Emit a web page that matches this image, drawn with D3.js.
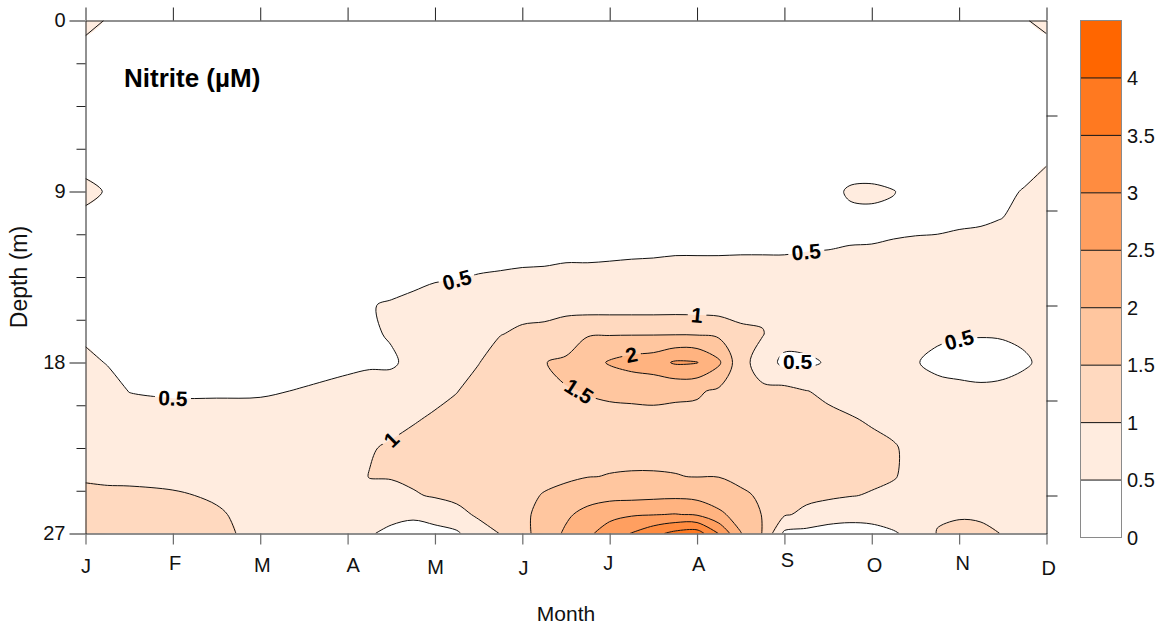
<!DOCTYPE html>
<html>
<head>
<meta charset="utf-8">
<title>Nitrite depth–time section</title>
<script src="https://cdn.jsdelivr.net/npm/d3@7"></script>
<style>
  html, body { margin: 0; padding: 0; background: #fff; }
  svg text { font-family: "Liberation Sans", Arial, Helvetica, sans-serif; }
</style>
</head>
<body>
<svg id="chart" width="1165" height="629"></svg>
<script>
// ---- data -------------------------------------------------------------
const monthLabels = ["J", "F", "M", "A", "M", "J", "J", "A", "S", "O", "N", "D"];
const depthLabels = [0, 9, 18, 27];
const legendLevels = [0, 0.5, 1, 1.5, 2, 2.5, 3, 3.5, 4, 4.5];

// gridded section: column positions (month index) and row depths (m)
const gridMonths = [0, 0.25, 0.5, 1, 1.5, 2, 2.5, 3, 3.25, 3.5, 3.75, 4, 4.25, 4.5, 4.75,
  5, 5.25, 5.5, 5.75, 6, 6.25, 6.5, 6.75, 7, 7.25, 7.5, 7.75, 8, 8.25, 8.5, 8.75,
  9, 9.25, 9.5, 9.75, 10, 10.25, 10.5, 10.75, 11];
const gridDepths = [0, 2, 4, 6, 7.5, 9, 10.5, 12, 13.5, 15, 16.5, 18, 19.5, 21, 22.5, 24, 25, 26, 27];

// nitrite (µM): one profile per grid column, surface to bottom
const nitriteProfiles = [
  [0.6, 0.35, 0.25, 0.25, 0.38, 0.6, 0.4, 0.3, 0.33, 0.38, 0.46, 0.55, 0.62, 0.7, 0.8, 0.95, 1.1, 1.2, 1.25],
  [0.48, 0.3, 0.25, 0.25, 0.32, 0.47, 0.33, 0.3, 0.32, 0.36, 0.42, 0.49, 0.58, 0.68, 0.78, 0.93, 1.08, 1.18, 1.22],
  [0.3, 0.26, 0.22, 0.22, 0.28, 0.35, 0.3, 0.28, 0.3, 0.33, 0.38, 0.44, 0.495, 0.6, 0.75, 0.92, 1.08, 1.18, 1.22],
  [0.26, 0.23, 0.2, 0.2, 0.25, 0.3, 0.28, 0.28, 0.3, 0.33, 0.38, 0.42, 0.48, 0.56, 0.7, 0.9, 1.04, 1.12, 1.15],
  [0.25, 0.22, 0.2, 0.2, 0.25, 0.3, 0.28, 0.28, 0.3, 0.33, 0.38, 0.42, 0.48, 0.56, 0.68, 0.85, 0.96, 1.04, 1.08],
  [0.25, 0.22, 0.2, 0.2, 0.25, 0.3, 0.28, 0.28, 0.3, 0.33, 0.38, 0.42, 0.48, 0.57, 0.68, 0.78, 0.84, 0.88, 0.9],
  [0.25, 0.22, 0.2, 0.2, 0.25, 0.3, 0.28, 0.29, 0.31, 0.35, 0.4, 0.44, 0.51, 0.6, 0.7, 0.75, 0.75, 0.72, 0.7],
  [0.25, 0.22, 0.2, 0.2, 0.25, 0.3, 0.3, 0.31, 0.33, 0.38, 0.42, 0.47, 0.54, 0.65, 0.85, 0.85, 0.78, 0.65, 0.58],
  [0.25, 0.22, 0.2, 0.2, 0.25, 0.3, 0.31, 0.33, 0.38, 0.49, 0.47, 0.48, 0.56, 0.75, 0.97, 1.01, 0.9, 0.6, 0.53],
  [0.25, 0.22, 0.2, 0.2, 0.25, 0.3, 0.32, 0.35, 0.42, 0.52, 0.52, 0.47, 0.6, 0.88, 1.05, 1.03, 0.85, 0.6, 0.42],
  [0.25, 0.22, 0.2, 0.2, 0.25, 0.3, 0.33, 0.37, 0.45, 0.55, 0.58, 0.56, 0.82, 0.97, 1.12, 1.1, 0.95, 0.55, 0.38],
  [0.25, 0.22, 0.2, 0.2, 0.25, 0.3, 0.33, 0.38, 0.48, 0.58, 0.65, 0.72, 0.9, 1.05, 1.15, 1.15, 1.05, 0.62, 0.4],
  [0.25, 0.22, 0.2, 0.2, 0.25, 0.3, 0.34, 0.4, 0.49, 0.6, 0.7, 0.8, 0.99, 1.12, 1.2, 1.2, 1.08, 0.9, 0.42],
  [0.25, 0.22, 0.2, 0.2, 0.25, 0.3, 0.35, 0.42, 0.51, 0.62, 0.8, 0.99, 1.12, 1.2, 1.25, 1.25, 1.15, 1.05, 0.85],
  [0.25, 0.22, 0.2, 0.2, 0.25, 0.3, 0.36, 0.43, 0.52, 0.85, 0.99, 1.15, 1.22, 1.28, 1.3, 1.3, 1.22, 1.12, 1.01],
  [0.25, 0.22, 0.2, 0.2, 0.25, 0.3, 0.36, 0.44, 0.53, 0.9, 1.05, 1.25, 1.28, 1.3, 1.35, 1.4, 1.42, 1.42, 1.4],
  [0.25, 0.22, 0.2, 0.2, 0.25, 0.3, 0.37, 0.45, 0.53, 0.92, 1.06, 1.48, 1.42, 1.35, 1.38, 1.42, 1.52, 1.62, 1.65],
  [0.25, 0.22, 0.2, 0.2, 0.25, 0.3, 0.37, 0.46, 0.54, 0.94, 1.1, 1.62, 1.47, 1.4, 1.42, 1.45, 1.6, 1.9, 2.1],
  [0.25, 0.22, 0.2, 0.2, 0.25, 0.3, 0.38, 0.46, 0.54, 0.77, 1.47, 1.78, 1.52, 1.4, 1.42, 1.49, 1.75, 2.2, 2.4],
  [0.25, 0.22, 0.2, 0.2, 0.25, 0.3, 0.38, 0.46, 0.55, 0.77, 1.47, 2.05, 1.56, 1.4, 1.42, 1.51, 1.85, 2.35, 2.75],
  [0.25, 0.22, 0.2, 0.2, 0.25, 0.3, 0.38, 0.47, 0.55, 0.77, 1.47, 2.2, 1.58, 1.4, 1.42, 1.52, 1.85, 2.45, 3.02],
  [0.25, 0.22, 0.2, 0.2, 0.25, 0.3, 0.38, 0.47, 0.56, 0.77, 1.47, 2.28, 1.62, 1.38, 1.42, 1.52, 1.88, 2.48, 3.35],
  [0.25, 0.22, 0.2, 0.2, 0.25, 0.3, 0.38, 0.48, 0.56, 0.78, 1.47, 2.56, 1.58, 1.38, 1.42, 1.51, 1.9, 2.52, 3.65],
  [0.25, 0.22, 0.2, 0.2, 0.25, 0.3, 0.38, 0.48, 0.56, 0.77, 1.46, 2.52, 1.56, 1.36, 1.42, 1.49, 1.85, 2.45, 3.75],
  [0.25, 0.22, 0.2, 0.2, 0.25, 0.3, 0.38, 0.48, 0.56, 0.76, 1.4, 2.08, 1.42, 1.32, 1.4, 1.49, 1.75, 2.1, 2.98],
  [0.25, 0.22, 0.2, 0.2, 0.25, 0.3, 0.38, 0.48, 0.57, 0.9, 1.06, 1.15, 1.2, 1.2, 1.3, 1.42, 1.56, 1.8, 2.02],
  [0.25, 0.22, 0.2, 0.2, 0.25, 0.3, 0.38, 0.48, 0.57, 0.92, 1.02, 0.8, 1.08, 1.15, 1.25, 1.35, 1.45, 1.48, 1.48],
  [0.25, 0.22, 0.2, 0.2, 0.25, 0.3, 0.38, 0.48, 0.57, 0.78, 0.75, 0.36, 1.15, 1.25, 1.28, 1.25, 1.2, 1.05, 0.4],
  [0.25, 0.22, 0.2, 0.2, 0.25, 0.3, 0.38, 0.49, 0.58, 0.72, 0.75, 0.4, 1.01, 1.15, 1.25, 1.2, 1.1, 0.9, 0.35],
  [0.25, 0.22, 0.2, 0.2, 0.25, 0.4, 0.42, 0.495, 0.6, 0.7, 0.75, 0.55, 0.93, 1.08, 1.2, 1.15, 1.08, 0.72, 0.3],
  [0.25, 0.22, 0.2, 0.22, 0.35, 0.54, 0.42, 0.51, 0.6, 0.7, 0.72, 0.7, 0.85, 1.03, 1.12, 1.1, 1.02, 0.65, 0.3],
  [0.25, 0.22, 0.2, 0.22, 0.34, 0.56, 0.42, 0.515, 0.6, 0.66, 0.68, 0.68, 0.82, 0.96, 1.1, 1.08, 0.97, 0.7, 0.3],
  [0.25, 0.22, 0.2, 0.22, 0.33, 0.51, 0.44, 0.53, 0.6, 0.62, 0.65, 0.66, 0.78, 0.9, 1.03, 1.02, 0.92, 0.75, 0.45],
  [0.25, 0.22, 0.2, 0.22, 0.3, 0.4, 0.45, 0.54, 0.6, 0.6, 0.58, 0.52, 0.65, 0.78, 0.9, 0.9, 0.85, 0.8, 0.65],
  [0.25, 0.22, 0.2, 0.22, 0.3, 0.4, 0.45, 0.55, 0.6, 0.6, 0.56, 0.42, 0.6, 0.72, 0.85, 0.88, 0.9, 0.95, 1.02],
  [0.25, 0.22, 0.2, 0.22, 0.32, 0.42, 0.47, 0.56, 0.6, 0.6, 0.53, 0.38, 0.58, 0.7, 0.82, 0.88, 0.92, 0.97, 1.08],
  [0.28, 0.24, 0.22, 0.24, 0.34, 0.43, 0.48, 0.57, 0.6, 0.6, 0.52, 0.36, 0.56, 0.7, 0.8, 0.86, 0.9, 0.96, 1.06],
  [0.33, 0.27, 0.25, 0.28, 0.37, 0.44, 0.505, 0.58, 0.6, 0.6, 0.53, 0.38, 0.58, 0.7, 0.78, 0.85, 0.9, 0.94, 0.99],
  [0.48, 0.3, 0.3, 0.35, 0.4, 0.52, 0.58, 0.6, 0.62, 0.62, 0.56, 0.46, 0.62, 0.72, 0.78, 0.83, 0.86, 0.86, 0.85],
  [0.58, 0.35, 0.3, 0.4, 0.49, 0.58, 0.62, 0.64, 0.65, 0.65, 0.62, 0.58, 0.66, 0.72, 0.78, 0.82, 0.85, 0.86, 0.85]
];

// contour labels: level and the (month, depth) spot they sit near
const contourLabels = [
  { level: 0.5, month: 1.17, depth: 19.9 },
  { level: 0.5, month: 4.17, depth: 13.7 },
  { level: 0.5, month: 8.34, depth: 12.1 },
  { level: 0.5, month: 8.15, depth: 17.97, inside: true },
  { level: 0.5, month: 9.95, depth: 16.8 },
  { level: 1, month: 3.46, depth: 22.1 },
  { level: 1, month: 6.92, depth: 15.4 },
  { level: 1.5, month: 5.71, depth: 19.5 },
  { level: 2, month: 6.15, depth: 17.8 }
];

// ---- layout -----------------------------------------------------------
const W = 1165, H = 629;
const X0 = 85.5, X1 = 1046.5, Y0 = 20.5, Y1 = 533.5;
const svg = d3.select("#chart");
const x = d3.scaleLinear().domain([0, monthLabels.length - 1]).range([X0, X1]);
const y = d3.scaleLinear().domain([0, 27]).range([Y0, Y1]);
const bandColor = t => d3.interpolateRgb("#ffffff", "#ff6600")(t);
const nBands = legendLevels.length - 1;

const defs = svg.append("defs");
defs.append("clipPath").attr("id", "plotClip")
  .append("rect").attr("x", X0).attr("y", Y0).attr("width", X1 - X0).attr("height", Y1 - Y0);
const gapMask = defs.append("mask").attr("id", "labelGaps")
  .attr("maskUnits", "userSpaceOnUse").attr("x", 0).attr("y", 0).attr("width", W).attr("height", H);
gapMask.append("rect").attr("x", 0).attr("y", 0).attr("width", W).attr("height", H).attr("fill", "#fff");

// ---- contour geometry -------------------------------------------------
const nx = gridMonths.length, ny = gridDepths.length;
const grid = new Array(nx * ny);
nitriteProfiles.forEach((col, i) => col.forEach((v, j) => { grid[j * nx + i] = v; }));
const contourLevels = legendLevels.slice(1, -1);
const shapes = d3.contours().size([nx, ny]).thresholds(contourLevels)(grid);

function lookup(arr, t) {
  const c = Math.max(0, Math.min(arr.length - 1, t));
  const i = Math.min(arr.length - 2, Math.floor(c));
  return arr[i] + (c - i) * (arr[i + 1] - arr[i]);
}
const toGrid = p => [Math.max(0, Math.min(nx - 1, p[0] - 0.5)), Math.max(0, Math.min(ny - 1, p[1] - 0.5))];
const toPx = g => [x(lookup(gridMonths, g[0])), y(lookup(gridDepths, g[1]))];
const same = (a, b) => Math.abs(a[0] - b[0]) < 1e-9 && Math.abs(a[1] - b[1]) < 1e-9;

function cleanRing(ring) {
  const pts = [];
  ring.forEach(p => {
    const g = toGrid(p);
    if (!pts.length || !same(pts[pts.length - 1], g)) pts.push(g);
  });
  if (pts.length > 1 && same(pts[0], pts[pts.length - 1])) pts.pop();
  return pts;
}
const eps = 1e-9;
const onBorder = (a, b) =>
  (a[0] <= eps && b[0] <= eps) || (a[0] >= nx - 1 - eps && b[0] >= nx - 1 - eps) ||
  (a[1] <= eps && b[1] <= eps) || (a[1] >= ny - 1 - eps && b[1] >= ny - 1 - eps);

const closedCurve = d3.line().curve(d3.curveCatmullRomClosed.alpha(0.5));
const openCurve = d3.line().curve(d3.curveCatmullRom.alpha(0.5));

function fillPath(shape) {
  return shape.coordinates.map(poly => poly.map(r => {
    const pts = cleanRing(r).map(toPx);
    return pts.length > 2 ? closedCurve(pts) : "";
  }).join("")).join("");
}

// isolines: ring pieces that do not run along the plot border
function isolines(shape) {
  const out = [];
  shape.coordinates.forEach(poly => poly.forEach(r => {
    const pts = cleanRing(r), n = pts.length;
    if (n < 3) return;
    const flags = pts.map((p, k) => onBorder(p, pts[(k + 1) % n]));
    const start = flags.indexOf(true);
    if (start < 0) { out.push({ closed: true, pts: pts.map(toPx) }); return; }
    let run = [];
    for (let s = 1; s <= n; s++) {
      const k = (start + s) % n;
      run.push(pts[k]);
      if (flags[k]) {
        if (run.length > 1) out.push({ closed: false, pts: run.map(toPx) });
        run = [];
      }
    }
  }));
  return out;
}

// ---- filled bands -----------------------------------------------------
const plotLayer = svg.append("g").attr("clip-path", "url(#plotClip)");
plotLayer.append("rect").attr("x", X0).attr("y", Y0).attr("width", X1 - X0).attr("height", Y1 - Y0).attr("fill", "#fff");
plotLayer.selectAll("path.band").data(shapes).join("path")
  .attr("class", "band")
  .attr("d", fillPath)
  .attr("fill", (d, i) => bandColor((i + 1) / (nBands - 1)))
  .attr("fill-rule", "evenodd");

const lineSets = shapes.map(s => ({ level: s.value, lines: isolines(s) }));

// ---- isolines, broken where labels sit ----------------------------------
const lineLayer = svg.append("g").attr("clip-path", "url(#plotClip)")
  .append("g").attr("mask", "url(#labelGaps)");
lineSets.forEach(s => s.lines.forEach(l => {
  lineLayer.append("path")
    .attr("d", l.closed ? closedCurve(l.pts) : openCurve(l.pts))
    .attr("fill", "none").attr("stroke", "#111").attr("stroke-width", 1);
}));

// ---- contour labels ---------------------------------------------------
const labelLayer = svg.append("g").attr("clip-path", "url(#plotClip)");
contourLabels.forEach(lab => {
  const tx = x(lab.month), ty = y(lab.depth);
  const set = lineSets.find(s => Math.abs(s.level - lab.level) < 1e-9);
  let best = null;
  set.lines.forEach(l => {
    l.pts.forEach((p, k) => {
      const d2 = (p[0] - tx) ** 2 + (p[1] - ty) ** 2;
      if (!best || d2 < best.d2) best = { d2, line: l, k };
    });
  });
  let px = tx, py = ty, ang = 0;
  if (best) {
    const pts = best.line.pts, n = pts.length;
    const at = i => best.line.closed ? pts[(i + n) % n] : pts[Math.max(0, Math.min(n - 1, i))];
    const a = at(best.k - 2), b = at(best.k + 2);
    ang = Math.atan2(b[1] - a[1], b[0] - a[0]) * 180 / Math.PI;
    if (ang > 90) ang -= 180;
    if (ang < -90) ang += 180;
    if (!lab.inside) { px = pts[best.k][0]; py = pts[best.k][1]; }
    else ang = 0;
  }
  const t = labelLayer.append("text")
    .attr("transform", `translate(${px},${py}) rotate(${ang})`)
    .attr("text-anchor", "middle").attr("dy", "0.36em")
    .attr("font-size", 21).attr("font-weight", "bold").attr("fill", "#000")
    .text(d3.format("~g")(lab.level));
  const w = t.node().getComputedTextLength() + 7;
  gapMask.append("rect")
    .attr("x", -w / 2).attr("y", -9).attr("width", w).attr("height", 18)
    .attr("transform", `translate(${px},${py}) rotate(${ang})`)
    .attr("fill", "#000");
});

// ---- axes ---------------------------------------------------------------
const monthIdx = monthLabels.map((_, i) => i);
const labelNudge = [[0, 1.7], [1.7, -2], [1.5, 0.7], [5.2, 0.7], [0, 2.7], [0.6, 3.3],
  [-1.9, -1.7], [1.1, -0.7], [2.5, -5], [2.2, 0.7], [3, -1.7], [1.7, 3.3]];

const axisColor = "#222";
const bottomAxis = svg.append("g").attr("transform", `translate(0,${Y1})`)
  .call(d3.axisBottom(x).tickValues(monthIdx).tickFormat(i => monthLabels[i])
    .tickSize(11).tickSizeOuter(0).tickPadding(13));
bottomAxis.select(".domain").attr("stroke", "#6a6a6a").attr("stroke-width", 1.5);
bottomAxis.selectAll(".tick line").attr("stroke", "#6a6a6a").attr("stroke-width", 1.2);
bottomAxis.selectAll(".tick text")
  .attr("font-size", 20).attr("fill", "#111")
  .attr("transform", (d, i) => `translate(${labelNudge[i][0]},${labelNudge[i][1]})`);
bottomAxis.attr("font-family", null);

const topAxis = svg.append("g").attr("transform", `translate(0,${Y0})`)
  .call(d3.axisTop(x).tickValues(monthIdx).tickFormat("").tickSize(13).tickSizeOuter(0));
topAxis.selectAll("path, line").attr("stroke", axisColor);

const leftAxis = svg.append("g").attr("transform", `translate(${X0},0)`)
  .call(d3.axisLeft(y).tickValues(depthLabels).tickSize(16).tickSizeOuter(0).tickPadding(4));
leftAxis.selectAll("path, line").attr("stroke", axisColor);
leftAxis.selectAll(".tick text").attr("font-size", 20).attr("fill", "#111");
leftAxis.attr("font-family", null);

const minorDepth = d3.range(0, 27.001, 2.25).filter(v => !depthLabels.includes(v));
svg.append("g").attr("transform", `translate(${X0},0)`)
  .call(d3.axisLeft(y).tickValues(minorDepth).tickFormat("").tickSize(9).tickSizeOuter(0))
  .call(g => g.select(".domain").remove())
  .selectAll("line").attr("stroke", axisColor);

const rightAxis = svg.append("g").attr("transform", `translate(${X1},0)`)
  .call(d3.axisRight(y).tickValues([5, 10, 15, 20, 25]).tickFormat("").tickSize(11).tickSizeOuter(0));
rightAxis.selectAll("path, line").attr("stroke", axisColor);

// ---- titles -------------------------------------------------------------
svg.append("text").attr("x", 124).attr("y", 87)
  .attr("font-size", 26).attr("font-weight", "bold").attr("fill", "#000")
  .text("Nitrite (µM)");
svg.append("text").attr("x", (X0 + X1) / 2).attr("y", 621)
  .attr("text-anchor", "middle").attr("font-size", 21).attr("fill", "#111")
  .text("Month");
svg.append("text").attr("transform", `translate(27,${(Y0 + Y1) / 2}) rotate(-90)`)
  .attr("text-anchor", "middle").attr("font-size", 23).attr("fill", "#111")
  .text("Depth (m)");

// ---- colour bar ---------------------------------------------------------
const cbX = 1080.5, cbW = 41;
const cb = d3.scaleLinear().domain([legendLevels[0], legendLevels[nBands]]).range([537.5, 20.5]);
const bar = svg.append("g");
bar.selectAll("rect.swatch").data(d3.pairs(legendLevels)).join("rect")
  .attr("class", "swatch")
  .attr("x", cbX).attr("width", cbW)
  .attr("y", d => cb(d[1])).attr("height", d => cb(d[0]) - cb(d[1]))
  .attr("fill", (d, i) => bandColor(i / (nBands - 1)));
bar.selectAll("line.sep").data(legendLevels.slice(1, -1)).join("line")
  .attr("class", "sep")
  .attr("x1", cbX).attr("x2", cbX + cbW)
  .attr("y1", d => cb(d)).attr("y2", d => cb(d))
  .attr("stroke", "#111").attr("stroke-width", 1);
bar.append("rect").attr("x", cbX).attr("y", cb(legendLevels[nBands])).attr("width", cbW)
  .attr("height", cb(legendLevels[0]) - cb(legendLevels[nBands]))
  .attr("fill", "none").attr("stroke", "#8a8a8a").attr("stroke-width", 1);
bar.selectAll("text").data(legendLevels.slice(0, -1)).join("text")
  .attr("x", 1127).attr("y", d => cb(d)).attr("dy", "0.36em")
  .attr("font-size", 20).attr("fill", "#111")
  .text(d => d3.format("~g")(d));
</script>
</body>
</html>
